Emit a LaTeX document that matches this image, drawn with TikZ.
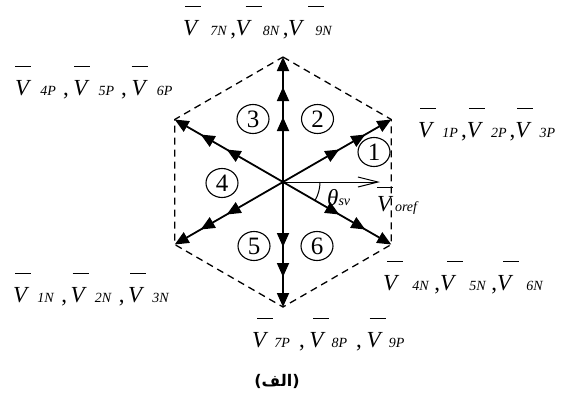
\documentclass[tikz,border=0pt]{standalone}
\usepackage{fontspec}
\setmainfont{Liberation Serif}
\newfontfamily\arabicfont[Script=Arabic]{DejaVu Sans}
\newfontfamily\capfont{DejaVu Sans}
\TeXXeTstate=1
\usetikzlibrary{arrows.meta,decorations.markings,shapes.geometric}
\newcommand{\bigfs}{\fontsize{23}{25}\selectfont}
\newcommand{\subfs}{\fontsize{14}{15}\selectfont}
\newcommand{\vbar}[2][28]{\rlap{\kern#2pt\raisebox{#1pt}{\rule{16pt}{0.9pt}}}}
\newcommand{\vg}[3]{\vbar{#1}\textit{V}\kern#2pt{\subfs\textit{#3}}}
\newcommand{\vlab}[9]{\vg{#4}{#1}{#7}\kern#2pt,\kern#3pt\vg{#5}{#1}{#8}\kern#2pt,\kern#3pt\vg{#6}{#1}{#9}}
\tikzset{
  lab/.style={anchor=base west, inner sep=0pt, font=\bigfs},
  tipA/.tip={Triangle[length=14pt,width=12pt]},
  ray/.style={line width=1.8pt, -tipA, postaction={decorate},
    decoration={markings,
      mark=at position 0.52 with {\arrow{tipA}},
      mark=at position 0.76 with {\arrow{tipA}}}},
  hexd/.style={line width=1.3pt, dash pattern=on 7pt off 5pt},
  refarrow/.style={line width=1pt, -{Straight Barb[length=20pt,width=10pt]}},
  num/.style={ellipse, draw, line width=1.1pt, minimum width=32pt, minimum height=29pt, inner sep=0pt, font=\fontsize{25}{25}\selectfont},
}
\begin{document}
\begin{tikzpicture}[x=1pt,y=-1pt]
\useasboundingbox (0,0) rectangle (571,394);
\coordinate (C) at (283,182);
\coordinate (up) at (283,57);
\coordinate (ur) at (391.3,119.5);
\coordinate (dr) at (391.3,244.5);
\coordinate (dn) at (283,307);
\coordinate (dl) at (174.7,244.5);
\coordinate (ul) at (174.7,119.5);
\coordinate (vref) at (380,182);
\draw[hexd] (up) -- (ur) -- (dr) -- (dn) -- (dl) -- (ul) -- cycle;
\foreach \v in {up,ur,dr,dn,dl,ul} \draw[ray] (C) -- (\v);
\draw[refarrow] (C) -- (vref);
\draw[line width=1pt] (C) ++(37,0) arc[start angle=0, end angle=30, radius=37];
\node[num] (n1) at (374,152) {1};
\node[num] (n2) at (317.5,119) {2};
\node[num] (n3) at (253,119) {3};
\node[num] (n4) at (222,183) {4};
\node[num] (n5) at (254,246) {5};
\node[num] (n6) at (317,246) {6};
\node[lab] (ltop) at (183,35) {\vlab{11}{3}{-0.5}{2}{10}{20}{7N}{8N}{9N}};
\node[lab] (lleft) at (15,95) {\vlab{9}{7}{4.6}{0}{1}{0}{4P}{5P}{6P}};
\node[lab] (lright) at (418,137) {\vlab{8}{3}{0}{2}{2}{2}{1P}{2P}{3P}};
\node[lab] (lbr) at (383,290) {\vlab{13}{5}{0}{4}{7}{6}{4N}{5N}{6N}};
\node[lab] (lbot) at (252,347) {\vlab{6}{9}{4.6}{5}{4}{3}{7P}{8P}{9P}};
\node[lab] (lbl) at (13,302) {\vlab{8}{7}{3.5}{2}{2}{2}{1N}{2N}{3N}};
\node[lab] (lvo) at (377,211) {\vbar[23]{0}\textit{V}\kern1.6pt{\subfs\textit{oref}}};
\node[lab] (lth) at (327,205) {\textit{θ}{\subfs\textit{sv}}};
\node[inner sep=0pt] (cap) at (277,381) {\fontsize{16}{16}\selectfont\bfseries{\capfont (}{\arabicfont\beginR الف\endR}{\capfont )}};
\end{tikzpicture}
\end{document}
